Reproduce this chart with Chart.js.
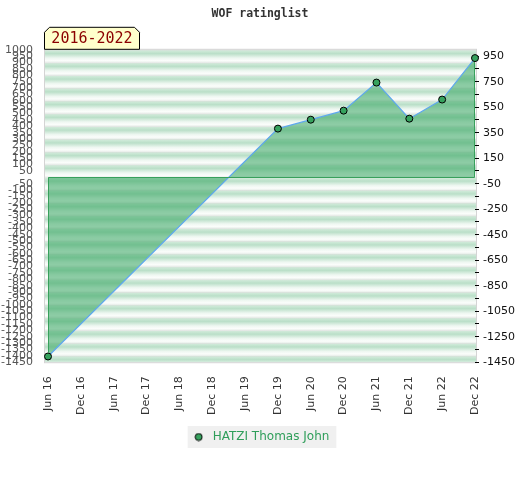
<!DOCTYPE html>
<html>
<head>
<meta charset="utf-8">
<script src="https://cdn.jsdelivr.net/npm/chart.js@4.4.0/dist/chart.umd.min.js"></script>
<style>
  html, body { margin: 0; padding: 0; background: #fff; }
  #wrap { width: 520px; height: 480px; }
</style>
</head>
<body>
<div id="wrap"><canvas id="ratingChart" width="520" height="480"></canvas></div>
<script>
// chart data
const periods = ['Jun 16', 'Dec 16', 'Jun 17', 'Dec 17', 'Jun 18', 'Dec 18', 'Jun 19',
                 'Dec 19', 'Jun 20', 'Dec 20', 'Jun 21', 'Dec 21', 'Jun 22', 'Dec 22'];
const ratings = [-1405, null, null, null, null, null, null, 382, 452, 523, 743, 460, 610, 935];
const playerName = 'HATZI Thomas John';
const chartTitle = 'WOF ratinglist';
const rangeLabel = '2016-2022';
const rightTicks = [-1450, -1350, -1250, -1150, -1050, -950, -850, -750, -650, -550, -450,
                    -350, -250, -150, -50, 50, 150, 250, 350, 450, 550, 650, 750, 850, 950];
const rightLabels = [-1450, -1250, -1050, -850, -650, -450, -250, -50, 150, 350, 550, 750, 950];
const bandEdges = [1000, 900, 800, 700, 600, 500, 400, 300, 200, 100, 0, -100, -200, -300, -400,
                   -500, -600, -700, -800, -900, -1000, -1100, -1200, -1300, -1400, -1450];

const INSET = 3; // plot frame starts a little left of the first point

// small round marker for the legend
const dot = document.createElement('canvas');
dot.width = 9;
dot.height = 9;
const dctx = dot.getContext('2d');
dctx.beginPath();
dctx.arc(4.5, 4.5, 3.5, 0, Math.PI * 2);
dctx.fillStyle = '#36a25e';
dctx.fill();
dctx.strokeStyle = '#000';
dctx.lineWidth = 1;
dctx.stroke();

// striped plot background, frame, legend box
const backdrop = {
    id: 'backdrop',
    beforeDraw(chart) {
        const ctx = chart.ctx, a = chart.chartArea, y = chart.scales.y;
        const left = a.left - INSET, w = a.right + 1 - left;
        ctx.save();
        for (let i = 0; i < bandEdges.length - 1; i++) {
            const top = y.getPixelForValue(bandEdges[i]);
            const bot = y.getPixelForValue(bandEdges[i + 1]);
            const full = y.getPixelForValue(bandEdges[i] - 100);
            const g = ctx.createLinearGradient(0, top, 0, full);
            g.addColorStop(0, '#dcdedc');
            g.addColorStop(0.1, '#cde9d7');
            g.addColorStop(0.3, '#badfc8');
            g.addColorStop(0.65, '#eef7f1');
            g.addColorStop(0.85, '#fbfdfb');
            g.addColorStop(1, '#e8efea');
            ctx.fillStyle = g;
            ctx.fillRect(left, top, w, bot - top);
        }
        ctx.strokeStyle = '#d4d4d4';
        ctx.lineWidth = 1;
        ctx.strokeRect(left - 0.5, a.top - 0.5, w + 1, a.bottom - a.top + 1);
        const hb = chart.legend.legendHitBoxes[0];
        if (hb) {
            ctx.fillStyle = '#f0f0f0';
            ctx.fillRect(hb.left - 3, hb.top - 5, hb.width + 10, hb.height + 10);
        }
        ctx.restore();
    },
    afterDatasetsDraw(chart) {
        // outline of the filled area like the original
        const ctx = chart.ctx, x = chart.scales.x, y = chart.scales.y;
        const first = 0, last = ratings.length - 1;
        const y0 = Math.round(y.getPixelForValue(0)) + 0.5;
        const xl = Math.round(x.getPixelForValue(first)) + 0.5;
        const xr = Math.round(x.getPixelForValue(last)) - 0.5;
        ctx.save();
        ctx.strokeStyle = '#38a05c';
        ctx.lineWidth = 1;
        ctx.beginPath();
        ctx.moveTo(xl, y.getPixelForValue(ratings[first]) - 4);
        ctx.lineTo(xl, y0);
        ctx.lineTo(xr, y0);
        ctx.lineTo(xr, y.getPixelForValue(ratings[last]) + 4);
        ctx.stroke();
        ctx.restore();
    },
    afterDraw(chart) {
        // period tab above the plot
        const ctx = chart.ctx, a = chart.chartArea;
        const l = a.left - INSET - 0.5, r = l + 95, t = a.top - 22.5, b = a.top - 0.5, c = 5;
        ctx.save();
        ctx.beginPath();
        ctx.moveTo(l, b);
        ctx.lineTo(l, t + c);
        ctx.lineTo(l + c, t);
        ctx.lineTo(r - c, t);
        ctx.lineTo(r, t + c);
        ctx.lineTo(r, b);
        ctx.closePath();
        ctx.fillStyle = '#ffffcc';
        ctx.fill();
        ctx.strokeStyle = '#000';
        ctx.lineWidth = 1;
        ctx.stroke();
        ctx.fillStyle = '#8b0000';
        ctx.font = '15px "DejaVu Sans Mono"';
        ctx.textAlign = 'center';
        ctx.textBaseline = 'middle';
        ctx.fillText(rangeLabel, (l + r) / 2, (t + b) / 2 + 1);
        ctx.restore();
    }
};

const ctx = document.getElementById('ratingChart').getContext('2d');
const chart = new Chart(ctx, {
    type: 'line',
    data: {
        labels: periods,
        datasets: [{
            label: playerName,
            data: ratings,
            spanGaps: true,
            fill: 'origin',
            backgroundColor: 'rgba(62,168,104,0.58)',
            borderColor: '#5fa8ee',
            borderWidth: 1.2,
            tension: 0,
            pointRadius: 3.5,
            pointHoverRadius: 3.5,
            pointBackgroundColor: '#36a25e',
            pointBorderColor: '#000',
            pointBorderWidth: 1
        }]
    },
    options: {
        responsive: false,
        animation: false,
        layout: { padding: { left: 0, right: 0, top: 0, bottom: 27 } },
        plugins: {
            title: {
                display: true,
                text: chartTitle,
                color: '#333',
                font: { family: 'DejaVu Sans Mono', size: 11.5, weight: 'bold' },
                padding: { top: 7, bottom: 29 }
            },
            legend: {
                position: 'bottom',
                labels: {
                    usePointStyle: true,
                    pointStyle: dot,
                    pointStyleWidth: 16,
                    boxWidth: 5,
                    boxHeight: 5,
                    color: '#2f9e5a',
                    font: { family: 'DejaVu Sans', size: 12 },
                    padding: 10
                }
            },
            tooltip: { enabled: false }
        },
        scales: {
            x: {
                offset: false,
                grid: { display: false },
                border: { display: false },
                ticks: {
                    autoSkip: false,
                    minRotation: 90,
                    maxRotation: 90,
                    color: '#333',
                    padding: 6,
                    font: { family: 'DejaVu Sans', size: 11 }
                }
            },
            y: {
                position: 'left',
                min: -1450,
                max: 1000,
                grid: { display: false },
                border: { display: false },
                afterFit(scale) { scale.width = 45 + INSET; },
                ticks: {
                    stepSize: 50,
                    autoSkip: false,
                    color: '#555',
                    padding: 4 + INSET,
                    font: { family: 'DejaVu Sans', size: 11 },
                    callback: v => (v === 0 ? '' : String(v))
                }
            },
            y2: {
                position: 'right',
                min: -1450,
                max: 1000,
                afterFit(scale) { scale.width = 45; },
                afterBuildTicks(scale) { scale.ticks = rightTicks.map(v => ({ value: v })); },
                grid: { drawOnChartArea: false, color: '#000', tickLength: 4 },
                border: { display: false },
                ticks: {
                    autoSkip: false,
                    color: '#111',
                    padding: 4,
                    font: { family: 'DejaVu Sans', size: 11 },
                    callback: v => (rightLabels.includes(v) ? String(v) : '')
                }
            }
        }
    },
    plugins: [backdrop]
});
</script>
</body>
</html>
